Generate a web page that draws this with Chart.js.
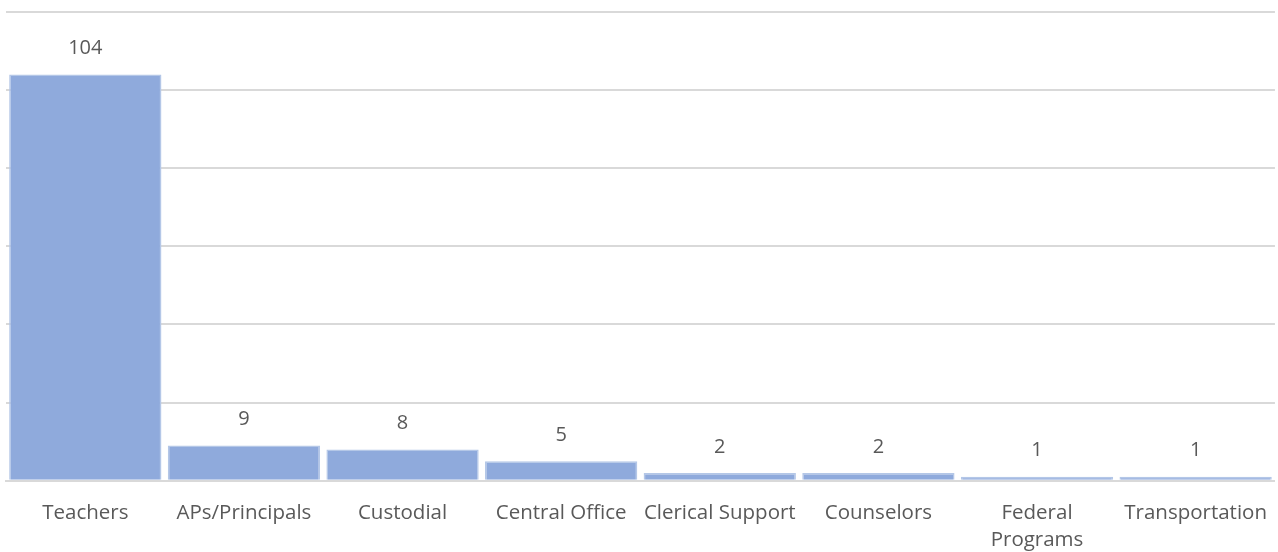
<!DOCTYPE html>
<html>
<head>
<meta charset="utf-8">
<script src="https://cdn.jsdelivr.net/npm/chart.js@4"></script>
<style>
  body { margin: 0; background: #fff; }
  #wrap { width: 1278px; height: 552px; }
</style>
</head>
<body>
<div id="wrap"><canvas id="myChart" width="1278" height="552"></canvas></div>
<script>
const categories = ['Teachers', 'APs/Principals', 'Custodial', 'Central Office', 'Clerical Support', 'Counselors', ['Federal', 'Programs'], 'Transportation'];
const counts = [104, 9, 8, 5, 2, 2, 1, 1];
const yMax = 120;
const yStep = 20;

// value labels above each bar
const valueLabels = {
    id: 'valueLabels',
    afterDatasetsDraw(chart) {
        const ctx = chart.ctx;
        const meta = chart.getDatasetMeta(0);
        ctx.save();
        ctx.fillStyle = '#595959';
        ctx.font = '20px "Open Sans", sans-serif';
        ctx.textAlign = 'center';
        ctx.textBaseline = 'middle';
        meta.data.forEach((bar, i) => {
            ctx.fillText(counts[i], bar.x, bar.y - 26);
        });
        ctx.restore();
    }
};

new Chart(document.getElementById('myChart'), {
    type: 'bar',
    data: {
        labels: categories,
        datasets: [{
            data: counts,
            backgroundColor: '#8faadc',
            borderColor: '#b4c7e7',
            borderWidth: 1.5,
            barPercentage: 0.96,
            categoryPercentage: 1
        }]
    },
    options: {
        responsive: false,
        animation: false,
        layout: { padding: { left: 6, right: -5, top: 12, bottom: -12 } },
        plugins: {
            legend: { display: false },
            tooltip: { enabled: false }
        },
        scales: {
            x: {
                grid: { display: false },
                border: { color: '#d9d9d9', width: 2 },
                ticks: {
                    color: '#595959',
                    font: { family: '"Open Sans", sans-serif', size: 20.5, lineHeight: 1.3 },
                    padding: 11,
                    maxRotation: 0,
                    autoSkip: false
                }
            },
            y: {
                min: 0,
                max: yMax,
                ticks: { display: false, stepSize: yStep },
                grid: { color: '#d9d9d9', lineWidth: 2, drawTicks: false },
                border: { display: false }
            }
        }
    },
    plugins: [valueLabels]
});
</script>
</body>
</html>
